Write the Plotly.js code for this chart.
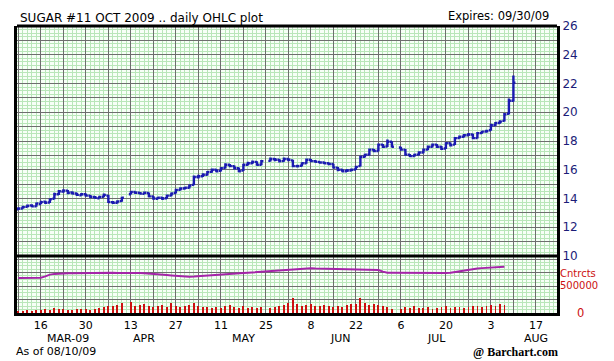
<!DOCTYPE html>
<html>
<head>
<meta charset="utf-8">
<script src="https://cdn.plot.ly/plotly-3.0.1.min.js"></script>
<style>html,body{margin:0;padding:0;background:#fff;}#chart{width:614px;height:361px;}</style>
</head>
<body>
<div id="chart"></div>
<script>
// Trading dates (holidays Apr 10, May 25, Jul 3 have no bar)
const dates = [
"2009-03-09","2009-03-10","2009-03-11","2009-03-12","2009-03-13",
"2009-03-16","2009-03-17","2009-03-18","2009-03-19","2009-03-20",
"2009-03-23","2009-03-24","2009-03-25","2009-03-26","2009-03-27",
"2009-03-30","2009-03-31","2009-04-01","2009-04-02","2009-04-03",
"2009-04-06","2009-04-07","2009-04-08","2009-04-09",
"2009-04-13","2009-04-14","2009-04-15","2009-04-16","2009-04-17",
"2009-04-20","2009-04-21","2009-04-22","2009-04-23","2009-04-24",
"2009-04-27","2009-04-28","2009-04-29","2009-04-30","2009-05-01",
"2009-05-04","2009-05-05","2009-05-06","2009-05-07","2009-05-08",
"2009-05-11","2009-05-12","2009-05-13","2009-05-14","2009-05-15",
"2009-05-18","2009-05-19","2009-05-20","2009-05-21","2009-05-22",
"2009-05-26","2009-05-27","2009-05-28","2009-05-29",
"2009-06-01","2009-06-02","2009-06-03","2009-06-04","2009-06-05",
"2009-06-08","2009-06-09","2009-06-10","2009-06-11","2009-06-12",
"2009-06-15","2009-06-16","2009-06-17","2009-06-18","2009-06-19",
"2009-06-22","2009-06-23","2009-06-24","2009-06-25","2009-06-26",
"2009-06-29","2009-06-30","2009-07-01","2009-07-02",
"2009-07-06","2009-07-07","2009-07-08","2009-07-09","2009-07-10",
"2009-07-13","2009-07-14","2009-07-15","2009-07-16","2009-07-17",
"2009-07-20","2009-07-21","2009-07-22","2009-07-23","2009-07-24",
"2009-07-27","2009-07-28","2009-07-29","2009-07-30","2009-07-31",
"2009-08-03","2009-08-04","2009-08-05","2009-08-06","2009-08-07",
"2009-08-10"];

const openP = [
13.25,13.30,13.42,13.52,13.45, 13.62,13.78,13.72,13.98,14.30, 14.48,14.55,14.42,14.35,14.22,
14.30,14.20,14.10,14.02,14.12, 14.20,13.75,13.70,13.82, 14.30,14.45,14.40,14.32,14.38,
14.15,13.98,14.05,14.02,14.20, 14.38,14.60,14.70,14.75,14.95, 15.50,15.55,15.65,15.85,16.00,
15.92,16.12,16.35,16.25,16.10, 15.95,16.35,16.45,16.55,16.35, 16.62,16.75,16.70,16.60,
16.75,16.65,16.25,16.28,16.45, 16.70,16.60,16.55,16.50,16.45, 16.40,16.15,16.00,15.90,15.95,
16.02,16.25,16.90,17.05,17.40, 17.30,17.75,17.62,17.95, 17.55,17.40,17.05,16.95,17.05,
17.20,17.40,17.60,17.75,17.60, 17.48,17.85,17.75,18.20,18.30, 18.40,18.45,18.20,18.55,18.65,
18.75,19.10,19.25,19.40,19.90, 20.80];
const highP = [
13.40,13.50,13.58,13.60,13.72, 13.85,13.85,14.00,14.40,14.60, 14.65,14.60,14.50,14.40,14.38,
14.35,14.25,14.18,14.20,14.35, 14.25,13.82,13.88,14.12, 14.52,14.50,14.45,14.48,14.42,
14.18,14.12,14.10,14.28,14.42, 14.68,14.78,14.82,14.98,15.60, 15.65,15.75,15.92,16.08,16.05,
16.18,16.45,16.40,16.30,16.15, 16.42,16.55,16.65,16.60,16.68, 16.85,16.82,16.75,16.85,
16.80,16.70,16.35,16.52,16.78, 16.75,16.68,16.60,16.55,16.50, 16.42,16.20,16.05,16.05,16.08,
16.28,16.98,17.12,17.48,17.45, 17.82,17.80,18.10,17.98, 17.60,17.45,17.10,17.12,17.28,
17.48,17.68,17.82,17.80,17.65, 17.92,17.90,18.28,18.38,18.48, 18.55,18.50,18.62,18.72,18.78,
19.20,19.32,19.45,19.95,20.95, 22.55];
const lowP = [
13.20,13.28,13.38,13.40,13.42, 13.60,13.62,13.68,13.95,14.25, 14.40,14.30,14.28,14.18,14.20,
14.12,14.02,13.98,14.00,14.08, 13.68,13.62,13.65,13.78, 14.28,14.32,14.28,14.30,14.08,
13.92,13.95,13.90,13.98,14.15, 14.35,14.55,14.62,14.70,14.92, 15.40,15.50,15.60,15.80,15.82,
15.88,16.08,16.18,16.02,15.82, 15.92,16.30,16.40,16.28,16.32, 16.58,16.60,16.50,16.55,
16.60,16.18,16.15,16.22,16.42, 16.52,16.48,16.42,16.38,16.32, 16.08,15.90,15.82,15.85,15.90,
15.98,16.22,16.85,17.00,17.22, 17.28,17.52,17.58,17.55, 17.32,16.98,16.88,16.90,17.00,
17.15,17.35,17.55,17.52,17.38, 17.45,17.62,17.72,18.15,18.25, 18.35,18.12,18.18,18.50,18.58,
18.72,19.05,19.20,19.35,19.85, 20.75];
const closeP = [
13.30,13.40,13.50,13.45,13.65, 13.75,13.70,13.95,14.30,14.50, 14.55,14.40,14.35,14.25,14.30,
14.20,14.10,14.05,14.10,14.25, 13.75,13.70,13.80,14.05, 14.45,14.40,14.35,14.40,14.15,
14.00,14.05,14.00,14.20,14.35, 14.60,14.70,14.75,14.90,15.50, 15.55,15.65,15.85,16.00,15.90,
16.10,16.35,16.25,16.10,15.90, 16.35,16.45,16.55,16.35,16.60, 16.75,16.70,16.60,16.75,
16.70,16.25,16.25,16.45,16.70, 16.60,16.55,16.50,16.45,16.40, 16.15,16.00,15.90,15.95,16.00,
16.20,16.90,17.05,17.40,17.30, 17.75,17.60,17.95,17.60, 17.40,17.05,16.95,17.05,17.20,
17.40,17.60,17.75,17.60,17.45, 17.85,17.70,18.20,18.30,18.40, 18.45,18.20,18.55,18.65,18.70,
19.10,19.25,19.35,19.85,20.80, 22.05];

// Volume and open interest (contracts), reported through Aug 6
const volume = [
40000,35000,45000,40000,50000, 45000,60000,55000,85000,70000, 60000,55000,50000,65000,75000,
60000,55000,70000,85000,95000, 120000,110000,140000,160000, 185000,120000,130000,150000,110000,
100000,125000,140000,105000,170000, 115000,95000,120000,135000,175000, 110000,95000,100000,90000,105000,
85000,115000,130000,95000,85000, 120000,90000,100000,85000,95000, 80000,95000,110000,140000,
165000,255000,150000,120000,135000, 150000,120000,110000,140000,125000, 100000,120000,95000,130000,150000,
145000,250000,160000,140000,150000, 130000,110000,95000,60000, 75000,100000,90000,110000,85000,
80000,95000,75000,90000,100000, 110000,85000,95000,105000,90000, 100000,110000,120000,105000,115000,
130000,125000,150000,140000];
const openInterest = [
582000,583000,585000,584000,586000, 588000,610000,640000,652000,658000, 662000,664000,663000,665000,666000,
667000,668000,668000,669000,670000, 670000,669000,668000,670000, 672000,671000,668000,664000,660000,
652000,645000,638000,632000,626000, 620000,612000,606000,605000,608000, 614000,620000,628000,635000,640000,
645000,648000,652000,656000,660000, 665000,670000,676000,682000,688000, 695000,702000,708000,714000,
720000,728000,735000,742000,745000, 744000,740000,738000,735000,733000, 732000,730000,728000,726000,724000,
722000,720000,719000,718000,717000, 716000,690000,672000,670000, 668000,666000,664000,662000,661000,
660000,660000,661000,662000,663000, 665000,672000,685000,698000,710000, 720000,730000,740000,748000,755000,
760000,765000,770000,772000];

// Axis labels
const weekTicks = ["2009-03-09","2009-03-16","2009-03-23","2009-03-30","2009-04-06","2009-04-13","2009-04-20","2009-04-27",
"2009-05-04","2009-05-11","2009-05-18","2009-05-25","2009-06-01","2009-06-08","2009-06-15","2009-06-22","2009-06-29",
"2009-07-06","2009-07-13","2009-07-20","2009-07-27","2009-08-03","2009-08-10","2009-08-17"];
const weekLabels = ["","16","","30","","13","","27","","11","","25","","8","","22","","6","","20","","3","","17"];
const monthNames = ["MAR-09","APR","MAY","JUN","JUL","AUG"];
const monthPos = ["2009-03-24","2009-04-16","2009-05-18","2009-06-16 12:00","2009-07-16","2009-08-17"];
const priceTicks = [10,11,12,13,14,15,16,17,18,19,20,21,22,23,24,25,26];
const priceLabels = ["10","","12","","14","","16","","18","","20","","22","","24","","26"];

const BLUE = '#1a1ab0', RED = '#cc1010', NAVY = '#1c1c78';
const DARKGRID = '#6e6e6e', LIGHTGRID = '#b9e6b9';
const DAY = 86400000;
const xRange = ["2009-03-06 16:45", "2009-08-21 16:30"];
const FONT = 'DejaVu Sans';

const xBase = {
  type: 'date', range: xRange, rangebreaks: [{bounds: ['sat', 'mon']}],
  rangeslider: {visible: false}, fixedrange: true,
  tickmode: 'array', tickvals: weekTicks, ticktext: weekLabels, ticks: '', ticklen: 0,
  showgrid: true, gridcolor: DARKGRID, gridwidth: 1,
  minor: {dtick: DAY, showgrid: true, gridcolor: LIGHTGRID, gridwidth: 1, ticks: '', ticklen: 0, tickcolor: 'rgba(0,0,0,0)'},
  showline: true, linecolor: '#000', linewidth: 3, mirror: false, zeroline: false,
  tickfont: {family: FONT, size: 11, color: '#000'}
};

const traces = [
  {type: 'ohlc', x: dates, open: openP, high: highP, low: lowP, close: closeP,
   xaxis: 'x2', yaxis: 'y', tickwidth: 0.45, hoverinfo: 'skip',
   increasing: {line: {color: BLUE, width: 2.4}}, decreasing: {line: {color: BLUE, width: 2.4}}},
  {type: 'bar', x: dates.slice(0, volume.length), y: volume, xaxis: 'x', yaxis: 'y2',
   marker: {color: RED, line: {width: 0}}, width: 0.4 * DAY, hoverinfo: 'skip'},
  {type: 'scatter', mode: 'lines', x: dates.slice(0, openInterest.length), y: openInterest,
   xaxis: 'x', yaxis: 'y2', line: {color: '#a424a8', width: 2}, hoverinfo: 'skip'}
];

const PY = 0.1986;
const annotations = [
  {text: 'SUGAR #11 OCT 2009 .. daily OHLC plot', xref: 'paper', yref: 'paper', x: 0.002, y: 1.028,
   xanchor: 'left', yanchor: 'middle', showarrow: false, font: {family: FONT, size: 12, color: '#000'}},
  {text: 'Expires: 09/30/09', xref: 'paper', yref: 'paper', x: 0.988, y: 1.035,
   xanchor: 'right', yanchor: 'middle', showarrow: false, font: {family: FONT, size: 11.5, color: '#000'}},
  {text: 'As of 08/10/09', xref: 'paper', yref: 'paper', x: -0.004, y: -0.1341, borderpad: 0,
   xanchor: 'left', yanchor: 'middle', showarrow: false, font: {family: FONT, size: 11, color: '#000'}},
  {text: '<b>@ Barchart.com</b>', xref: 'paper', yref: 'paper', x: 0.842, y: -0.1359, borderpad: 0,
   xanchor: 'left', yanchor: 'middle', showarrow: false, font: {family: 'Liberation Serif', size: 12, color: '#000'}},
  {text: 'Cntrcts', xref: 'paper', yref: 'y2', x: 1, y: 500000, xshift: 2, yshift: 9.5, borderpad: 0,
   xanchor: 'left', yanchor: 'middle', showarrow: false, font: {family: FONT, size: 10, color: RED}},
  {text: '500000', xref: 'paper', yref: 'y2', x: 1, y: 500000, xshift: 2, yshift: -2.5, borderpad: 0,
   xanchor: 'left', yanchor: 'middle', showarrow: false, font: {family: FONT, size: 10, color: RED}},
  {text: '0', xref: 'paper', yref: 'y2', x: 1, y: 0, xshift: 23,
   xanchor: 'center', yanchor: 'middle', showarrow: false, font: {family: FONT, size: 11.5, color: RED}}
];
monthNames.forEach((m, k) => annotations.push({
  text: m, xref: 'x', yref: 'paper', x: monthPos[k], y: 0, yshift: -25,
  xanchor: 'center', yanchor: 'middle', showarrow: false, borderpad: 0,
  font: {family: FONT, size: 11, color: '#000'}
}));

const borderLine = {type: 'line', xref: 'paper', yref: 'paper', line: {color: '#000', width: 3}, layer: 'above'};
const shapes = [
  Object.assign({}, borderLine, {x0: 0, x1: 1, y0: 1, y1: 1}),
  Object.assign({}, borderLine, {x0: 0, x1: 1, y0: PY, y1: PY})
];

const layout = {
  width: 614, height: 361,
  margin: {l: 17, r: 57, t: 26, b: 48, pad: 0},
  paper_bgcolor: '#ffffff', plot_bgcolor: '#f7fff7',
  showlegend: false, bargap: 0,
  font: {family: FONT, size: 12, color: '#000'},
  xaxis: Object.assign({}, xBase, {anchor: 'y2', domain: [0, 1], ticklabelstandoff: 0}),
  xaxis2: Object.assign({}, xBase, {anchor: 'y', domain: [0, 1], matches: 'x', showticklabels: false, showline: false}),
  yaxis: {
    domain: [PY, 1], anchor: 'x2', side: 'right', range: [10, 26], fixedrange: true,
    tickmode: 'array', tickvals: priceTicks, ticktext: priceLabels, ticks: '', ticklen: 0,
    showgrid: true, gridcolor: DARKGRID, gridwidth: 1,
    minor: {dtick: 0.25, showgrid: true, gridcolor: LIGHTGRID, gridwidth: 1, ticks: '', ticklen: 0},
    showline: true, linecolor: '#000', linewidth: 3, mirror: true, zeroline: false,
    ticklabelstandoff: 0,
    tickfont: {family: FONT, size: 12, color: NAVY}
  },
  yaxis2: {
    domain: [0, PY], anchor: 'x', side: 'right', range: [0, 950000], fixedrange: true,
    tickmode: 'array', tickvals: [0, 225000, 450000, 675000, 900000], showticklabels: false, ticks: '', ticklen: 0,
    showgrid: true, gridcolor: DARKGRID, gridwidth: 1,
    minor: {dtick: 56250, showgrid: true, gridcolor: LIGHTGRID, gridwidth: 1, ticks: '', ticklen: 0},
    showline: true, linecolor: '#000', linewidth: 3, mirror: true, zeroline: false
  },
  shapes: shapes,
  annotations: annotations
};

Plotly.newPlot('chart', traces, layout, {displayModeBar: false, staticPlot: true});
</script>
</body>
</html>
